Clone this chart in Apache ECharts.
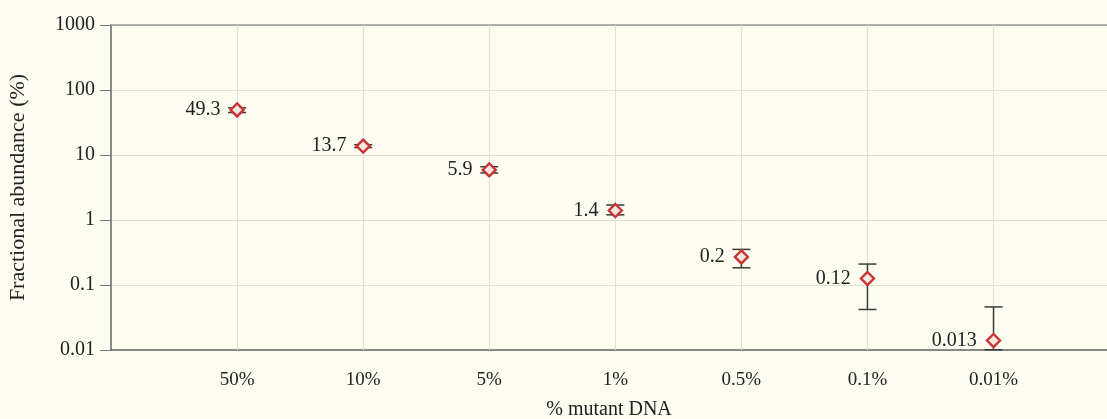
<!DOCTYPE html>
<html>
<head>
<meta charset="utf-8">
<script src="https://cdn.jsdelivr.net/npm/echarts@6/dist/echarts.min.js"></script>
<style>
html,body{margin:0;padding:0;background:#fcfcf1;}
#chart{width:1107px;height:419px;}
</style>
</head>
<body>
<div id="chart"></div>
<script>
// Data
var categories = ['50%', '10%', '5%', '1%', '0.5%', '0.1%', '0.01%'];
var values     = [49.3, 13.7, 5.9, 1.4, 0.27, 0.126, 0.014];
var labels     = ['49.3', '13.7', '5.9', '1.4', '0.2', '0.12', '0.013'];
var errLow     = [45, 13, 5.3, 1.2, 0.184, 0.042, 0.0101];
var errHigh    = [53, 14.4, 6.6, 1.7, 0.353, 0.21, 0.046];
var yTicks     = [0.01, 0.1, 1, 10, 100, 1000];

var serif = '"Liberation Serif", "DejaVu Serif", serif';
var chart = echarts.init(document.getElementById('chart'));

var pointData = values.map(function (v, i) { return [i + 1, v]; });
var errData = values.map(function (v, i) { return [i + 1, errLow[i], errHigh[i]]; });
var vLines = categories.map(function (c, i) { return { xAxis: i + 1 }; });

chart.setOption({
  backgroundColor: '#fcfcf1',
  animation: false,
  grid: { left: 111, right: 0, top: 25, bottom: 69, outerBoundsMode: 'none', containLabel: false },
  xAxis: [{
    type: 'value', min: 0, max: 7.9, interval: 1,
    name: '% mutant DNA', nameLocation: 'middle', nameGap: 50,
    nameTextStyle: { fontFamily: serif, fontSize: 20, color: '#222' },
    axisLine: { show: true, lineStyle: { color: '#666', width: 1.5 } },
    axisTick: { show: false },
    axisLabel: {
      fontFamily: serif, fontSize: 19, color: '#222', margin: 21,
      formatter: function (v) {
        var i = Math.round(v);
        return (Math.abs(v - i) < 1e-6 && i >= 1 && i <= categories.length) ? categories[i - 1] : '';
      }
    },
    splitLine: { show: false }
  }, {
    type: 'value', min: 0, max: 7.9, position: 'top',
    axisLine: { show: true, lineStyle: { color: '#999', width: 1.5 } },
    axisTick: { show: false }, axisLabel: { show: false }, splitLine: { show: false }
  }],
  yAxis: {
    type: 'log', min: yTicks[0], max: yTicks[yTicks.length - 1], logBase: 10,
    name: 'Fractional abundance (%)', nameLocation: 'middle', nameGap: 82,
    nameTextStyle: { fontFamily: serif, fontSize: 22, color: '#222' },
    axisLine: { show: true, lineStyle: { color: '#666', width: 1.5 } },
    axisTick: { show: true, length: 11, lineStyle: { color: '#777' } },
    axisLabel: {
      fontFamily: serif, fontSize: 20, color: '#222', margin: 16,
      formatter: function (v) {
        for (var k = 0; k < yTicks.length; k++) {
          if (Math.abs(Math.log10(v) - Math.log10(yTicks[k])) < 1e-6) return String(yTicks[k]);
        }
        return '';
      }
    },
    splitLine: { show: true, lineStyle: { color: '#e2e0d4', width: 1 } }
  },
  series: [{
    type: 'custom',
    data: errData,
    z: 2,
    renderItem: function (params, api) {
      var x = api.value(0);
      var lo = api.coord([x, api.value(1)]);
      var hi = api.coord([x, api.value(2)]);
      var w = 9;
      var st = { stroke: '#3a3a3a', lineWidth: 1.5 };
      return {
        type: 'group',
        children: [
          { type: 'line', shape: { x1: lo[0], y1: lo[1], x2: hi[0], y2: hi[1] }, style: st },
          { type: 'line', shape: { x1: lo[0] - w, y1: lo[1], x2: lo[0] + w, y2: lo[1] }, style: st },
          { type: 'line', shape: { x1: hi[0] - w, y1: hi[1], x2: hi[0] + w, y2: hi[1] }, style: st }
        ]
      };
    }
  }, {
    type: 'scatter',
    data: pointData,
    z: 3,
    symbol: 'diamond',
    symbolSize: 13,
    itemStyle: { color: '#f6e6df', borderColor: '#c83434', borderWidth: 2.4, opacity: 1 },
    label: {
      show: true, position: 'left', distance: 9,
      fontFamily: serif, fontSize: 20, color: '#222',
      formatter: function (p) { return labels[p.dataIndex]; }
    },
    markLine: {
      silent: true, symbol: ['none', 'none'], label: { show: false },
      lineStyle: { color: '#e2e0d4', width: 1, type: 'solid' },
      z: 1,
      data: vLines
    }
  }]
});
</script>
</body>
</html>
